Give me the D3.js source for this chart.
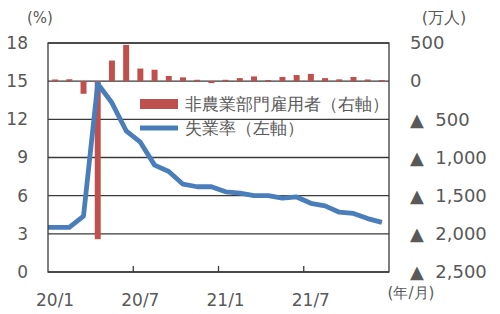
<!DOCTYPE html>
<html>
<head>
<meta charset="utf-8">
<script src="https://cdn.jsdelivr.net/npm/d3@7"></script>
<style>
  body { margin: 0; background: #fff; }
  text { font-family: "DejaVu Sans", sans-serif; fill: #595959; }
</style>
</head>
<body>
<svg id="chart" width="500" height="314"></svg>
<script>
// months shown on the category axis
const months = ["20/1","20/2","20/3","20/4","20/5","20/6","20/7","20/8","20/9","20/10","20/11","20/12",
                "21/1","21/2","21/3","21/4","21/5","21/6","21/7","21/8","21/9","21/10","21/11","21/12"];
const tickLabels = ["20/1", "20/7", "21/1", "21/7"];

// nonfarm payrolls, change from previous month (万人, right axis)
const payrolls = [22, 25, -165, -2070, 270, 475, 165, 150, 68, 50, 18, -25,
                  18, 40, 62, 15, 55, 80, 95, 40, 24, 55, 22, 14];

// unemployment rate (%, left axis); first value is 19/12, runs in from the left edge
const unempPrev = 3.5;
const unemp = [3.5, 3.5, 4.4, 14.8, 13.3, 11.1, 10.2, 8.4, 7.9, 6.9, 6.7, 6.7,
               6.3, 6.2, 6.0, 6.0, 5.8, 5.9, 5.4, 5.2, 4.7, 4.6, 4.2, 3.9];

const leftTicks = [0, 3, 6, 9, 12, 15, 18];
const rightTicks = [-2500, -2000, -1500, -1000, -500, 0, 500];

const margin = { top: 43, right: 111, bottom: 42, left: 48 };
const W = 500, H = 314;
const x0 = margin.left, x1 = W - margin.right;
const y0 = H - margin.bottom, y1 = margin.top;

const svg = d3.select("#chart");

const x = d3.scaleBand().domain(months).range([x0, x1])
  .paddingInner(0.58).paddingOuter(0.29);
const step = x.step();
const yL = d3.scaleLinear().domain([0, 18]).range([y0, y1]);
const yR = d3.scaleLinear().domain([-2500, 500]).range([y0, y1]);

svg.append("clipPath").attr("id", "plot")
  .append("rect").attr("x", x0).attr("y", y1).attr("width", x1 - x0).attr("height", y0 - y1);

// grid lines
svg.append("g").selectAll("line").data(leftTicks).join("line")
  .attr("x1", x0).attr("x2", x1)
  .attr("y1", d => yL(d)).attr("y2", d => yL(d))
  .attr("stroke", "#3a3a3a").attr("stroke-width", 1.3);

// bars
svg.append("g").selectAll("rect").data(payrolls).join("rect")
  .attr("x", (d, i) => x(months[i]))
  .attr("width", x.bandwidth())
  .attr("y", d => yR(Math.max(0, d)))
  .attr("height", d => Math.abs(yR(d) - yR(0)))
  .attr("fill", "#c0504d");

// line
const center = i => x(months[0]) + x.bandwidth() / 2 + i * step;
const linePts = [unempPrev].concat(unemp).map((v, i) => ({ i: i - 1, v }));
svg.append("path")
  .datum(linePts)
  .attr("clip-path", "url(#plot)")
  .attr("fill", "none")
  .attr("stroke", "#4a7ebb")
  .attr("stroke-width", 4.8)
  .attr("stroke-linejoin", "round")
  .attr("d", d3.line().x(d => center(d.i)).y(d => yL(d.v)));

// frame
svg.append("rect")
  .attr("x", x0).attr("y", y1).attr("width", x1 - x0).attr("height", y0 - y1)
  .attr("fill", "none").attr("stroke", "#3a3a3a").attr("stroke-width", 1.3);

// x ticks at 6-month boundaries
svg.append("g").selectAll("line").data(tickLabels.slice(1)).join("line")
  .attr("x1", d => x(d) - step * 0.29).attr("x2", d => x(d) - step * 0.29)
  .attr("y1", y0).attr("y2", y0 - 6)
  .attr("stroke", "#3a3a3a").attr("stroke-width", 1.3);

// x labels
const xAxis = svg.append("g")
  .attr("transform", `translate(0,${y0 + 19})`)
  .call(d3.axisBottom(x).tickValues(tickLabels).tickSize(0));
xAxis.select(".domain").remove();
xAxis.selectAll("text").style("font-size", "17px").attr("fill", "#595959");

// left axis
const lAxis = svg.append("g")
  .attr("transform", `translate(${x0 - 20},0)`)
  .call(d3.axisLeft(yL).tickValues(leftTicks).tickSize(0).tickPadding(0));
lAxis.select(".domain").remove();
lAxis.selectAll("text").style("font-size", "17px").attr("fill", "#595959");

// right axis
const fmt = d3.format(",");
const rAxis = svg.append("g")
  .attr("transform", `translate(${x1 + 21},0)`)
  .call(d3.axisRight(yR).tickValues(rightTicks).tickSize(0).tickPadding(0)
    .tickFormat(d => d < 0 ? "▲\u00a0\u00a0" + fmt(-d) : fmt(d)));
rAxis.select(".domain").remove();
rAxis.selectAll("text").style("font-size", "18px").attr("fill", "#595959");

// unit labels
svg.append("text").attr("x", 40).attr("y", 23).attr("text-anchor", "middle")
  .style("font-size", "15px").text("(%)");
svg.append("text").attr("x", 444).attr("y", 23).attr("text-anchor", "middle")
  .style("font-size", "16px").text("(万人)");
svg.append("text").attr("x", 411).attr("y", 298).attr("text-anchor", "middle")
  .style("font-size", "15px").text("(年/月)");

// legend
const legend = [
  { label: "非農業部門雇用者（右軸）", type: "bar" },
  { label: "失業率（左軸）", type: "line" }
];
const lg = svg.append("g").attr("transform", "translate(140,104)");
legend.forEach((d, i) => {
  const g = lg.append("g").attr("transform", `translate(0,${i * 24})`);
  if (d.type === "bar") {
    g.append("rect").attr("x", 0).attr("y", -5).attr("width", 38).attr("height", 10).attr("fill", "#c0504d");
  } else {
    g.append("line").attr("x1", 0).attr("x2", 38).attr("stroke", "#4a7ebb").attr("stroke-width", 4.8);
  }
  g.append("text").attr("x", 45).attr("dy", "0.35em").style("font-size", "16.5px").text(d.label);
});
</script>
</body>
</html>
